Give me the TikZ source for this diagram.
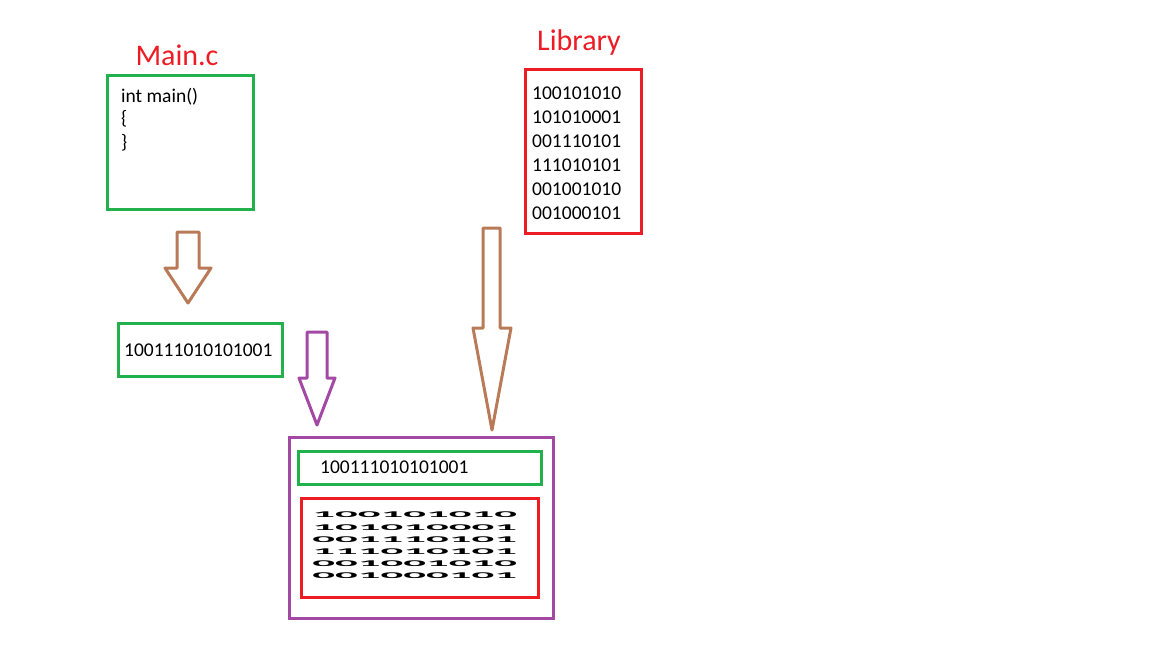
\documentclass[tikz,border=0pt]{standalone}
\usepackage{fontspec}
\setmainfont{Carlito}
\definecolor{pgreen}{RGB}{34,177,76}
\definecolor{pred}{RGB}{237,28,36}
\definecolor{ppurple}{RGB}{163,73,164}
\definecolor{pbrown}{RGB}{185,122,87}
\begin{document}
\begin{tikzpicture}[x=1pt,y=-1pt,
  boxg/.style={draw=pgreen,line width=3pt},
  boxr/.style={draw=pred,line width=3pt},
  boxp/.style={draw=ppurple,line width=3pt},
  txt/.style={anchor=west,inner sep=0pt,font=\fontsize{19.5}{19.5}\selectfont},
  ttl/.style={text=pred,font=\fontsize{30}{30}\selectfont,inner sep=0pt}]
\useasboundingbox (0,0) rectangle (1152,648);
\node[ttl] (t1) at (177,55) {Main.c};
\draw[boxg] (107,75) rectangle (253,209);
\node[txt] (l1) at (121,97) {int main()};
\node[txt] (l2) at (121,119) {\{};
\node[txt] (l3) at (121,143) {\}};
\draw[pbrown,line width=3pt,line join=round] (177,232)--(199,232)--(199,268)--(211,268)--(188,303)--(165,268)--(177,268)--cycle;
\draw[boxg] (118,323) rectangle (282,376);
\node[txt] (o1) at (124,350) {100111010101001};
\draw[ppurple,line width=3pt,line join=round] (307,332)--(327,332)--(327,378)--(335,378)--(317,425)--(299,378)--(307,378)--cycle;
\node[ttl] (t2) at (579,43) {Library};
\draw[boxr] (525,69) rectangle (641,233);
\foreach \s [count=\i from 0] in {100101010,101010001,001110101,111010101,001001010,001000101}
  \node[txt] (b\i) at (532,93+24*\i) {\s};
\draw[pbrown,line width=3pt,line join=round] (483,228)--(500,228)--(500,328)--(511,328)--(492,430)--(473,328)--(483,328)--cycle;
\draw[boxp] (289,437) rectangle (553,618);
\draw[boxg] (298,451) rectangle (541,484);
\node[txt] (o2) at (320,467) {100111010101001};
\draw[boxr] (301,498) rectangle (538,597);
\foreach \s [count=\i from 0] in {100101010,101010001,001110101,111010101,001001010,001000101}
  \node[txt,xscale=2.3,yscale=0.45,font=\fontsize{19.5}{19.5}\selectfont\bfseries] (c\i) at (312,515+12.2*\i) {\s};
\end{tikzpicture}
\end{document}
